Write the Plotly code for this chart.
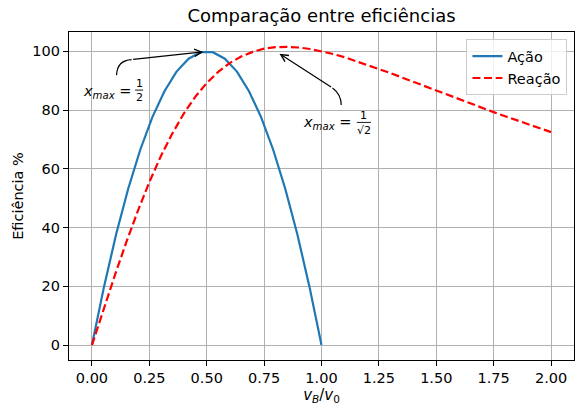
import plotly.graph_objects as go

# ---- data ----
acao_x = [0.0, 0.0526, 0.1053, 0.1579, 0.2105, 0.2632, 0.3158, 0.3684, 0.4211, 0.4737,
          0.5263, 0.5789, 0.6316, 0.6842, 0.7368, 0.7895, 0.8421, 0.8947, 0.9474, 1.0]
acao_y = [0.0, 19.9, 37.7, 53.2, 66.5, 77.6, 86.4, 93.1, 97.5, 99.7,
          99.7, 97.5, 93.1, 86.4, 77.6, 66.5, 53.2, 37.7, 19.9, 0.0]

reacao_x = [0.0, 0.05, 0.10, 0.15, 0.20, 0.25, 0.30, 0.35, 0.40, 0.45, 0.50,
            0.55, 0.60, 0.65, 0.70, 0.75, 0.80, 0.85, 0.90, 0.95, 1.00,
            1.05, 1.10, 1.15, 1.20, 1.25, 1.30, 1.35, 1.40, 1.45, 1.50,
            1.55, 1.60, 1.65, 1.70, 1.75, 1.80, 1.85, 1.90, 1.95, 2.00]
reacao_y = [0.0, 12.0, 23.8, 35.1, 45.7, 55.5, 64.3, 72.0, 78.8, 84.5, 89.2,
            93.0, 96.0, 98.2, 99.8, 100.9, 101.4, 101.5, 101.3, 100.8, 100.0,
            99.1, 98.0, 96.7, 95.4, 94.0, 92.6, 91.1, 89.6, 88.1, 86.6,
            85.1, 83.6, 82.1, 80.7, 79.3, 77.9, 76.5, 75.1, 73.8, 72.5]

x_ticks = [0.0, 0.25, 0.5, 0.75, 1.0, 1.25, 1.5, 1.75, 2.0]
y_ticks = [0, 20, 40, 60, 80, 100]

FONT = "DejaVu Sans"

fig = go.Figure()
fig.add_trace(go.Scatter(x=acao_x, y=acao_y, mode="lines", name="Ação",
                         line=dict(color="#1f77b4", width=2.2)))
fig.add_trace(go.Scatter(x=reacao_x, y=reacao_y, mode="lines", name="Reação",
                         line=dict(color="#ff0000", width=2.2, dash="8px,3.6px")))

axis_common = dict(showline=True, linecolor="black", linewidth=1.1, mirror=True,
                   ticks="outside", ticklen=5, tickwidth=1.1, tickcolor="black",
                   showgrid=True, gridcolor="#b0b0b0", gridwidth=1.1, zeroline=False,
                   automargin=False,
                   tickfont=dict(family=FONT, size=14.5, color="black"))

fig.update_xaxes(range=[-0.1, 2.1], tickvals=x_ticks, tickformat=".2f",
                 title=dict(text="<i>v</i><sub><i>B</i></sub>/<i>v</i><sub>0</sub>",
                            font=dict(family=FONT, size=15, color="black"), standoff=4),
                 **axis_common)
fig.update_yaxes(range=[-5.075, 106.575], tickvals=y_ticks,
                 title=dict(text="Eficiência %", font=dict(family=FONT, size=14.5, color="black"),
                            standoff=5),
                 **axis_common)

ann_font = dict(family=FONT, size=14.5, color="black")
frac_font = dict(family=FONT, size=11, color="black")
annotations = [
    dict(x=0.180, y=86.0, xref="x", yref="y", text="<i>x</i><sub><i>max</i></sub> =",
         showarrow=False, xanchor="right", yanchor="middle", font=ann_font),
    dict(x=0.205, y=88.9, xref="x", yref="y", text="1", showarrow=False,
         xanchor="center", yanchor="middle", font=frac_font),
    dict(x=0.205, y=84.4, xref="x", yref="y", text="2", showarrow=False,
         xanchor="center", yanchor="middle", font=frac_font),
    dict(x=1.137, y=75.6, xref="x", yref="y", text="<i>x</i><sub><i>max</i></sub> =",
         showarrow=False, xanchor="right", yanchor="middle", font=ann_font),
    dict(x=1.184, y=78.0, xref="x", yref="y", text="1", showarrow=False,
         xanchor="center", yanchor="middle", font=frac_font),
    dict(x=1.184, y=72.9, xref="x", yref="y", text="√2", showarrow=False,
         xanchor="center", yanchor="middle", font=frac_font),
    dict(x=0.485, y=99.8, xref="x", yref="y", ax=0.173, ay=97.2, axref="x", ayref="y",
         text="", showarrow=True, arrowhead=5, arrowsize=1.2, arrowwidth=1.2,
         arrowcolor="black", standoff=0),
    dict(x=0.817, y=99.2, xref="x", yref="y", ax=1.048, ay=87.5, axref="x", ayref="y",
         text="", showarrow=True, arrowhead=5, arrowsize=1.2, arrowwidth=1.2,
         arrowcolor="black", standoff=0),
]

shapes = [
    dict(type="line", xref="x", yref="y", x0=0.188, x1=0.223, y0=86.8, y1=86.8,
         line=dict(color="black", width=0.9)),
    dict(type="line", xref="x", yref="y", x0=1.154, x1=1.215, y0=75.8, y1=75.8,
         line=dict(color="black", width=0.9)),
    dict(type="path", xref="x", yref="y",
         path="M 0.107,91.9 Q 0.110,97.0 0.173,97.2",
         line=dict(color="black", width=1.2)),
    dict(type="path", xref="x", yref="y",
         path="M 1.086,81.7 Q 1.086,85.3 1.048,87.5",
         line=dict(color="black", width=1.2)),
]

fig.update_layout(
    width=575, height=405,
    margin=dict(l=69, r=1, t=32, b=45),
    paper_bgcolor="white", plot_bgcolor="white",
    font=dict(family=FONT, color="black"),
    title=dict(text="Comparação entre eficiências", x=0.5, xref="paper", xanchor="center",
               y=1 - 16 / 405, yanchor="middle",
               font=dict(family=FONT, size=18, color="black")),
    legend=dict(x=0.987, xanchor="right", y=0.978, yanchor="top",
                bgcolor="rgba(255,255,255,0.8)", bordercolor="#cccccc", borderwidth=1,
                font=dict(family=FONT, size=14.5, color="black"),
                itemwidth=30, tracegroupgap=0),
    annotations=annotations,
    shapes=shapes,
    showlegend=True,
)

fig.write_html("out.html", post_script="document.body.style.margin='0';",
               config={"displayModeBar": False})
